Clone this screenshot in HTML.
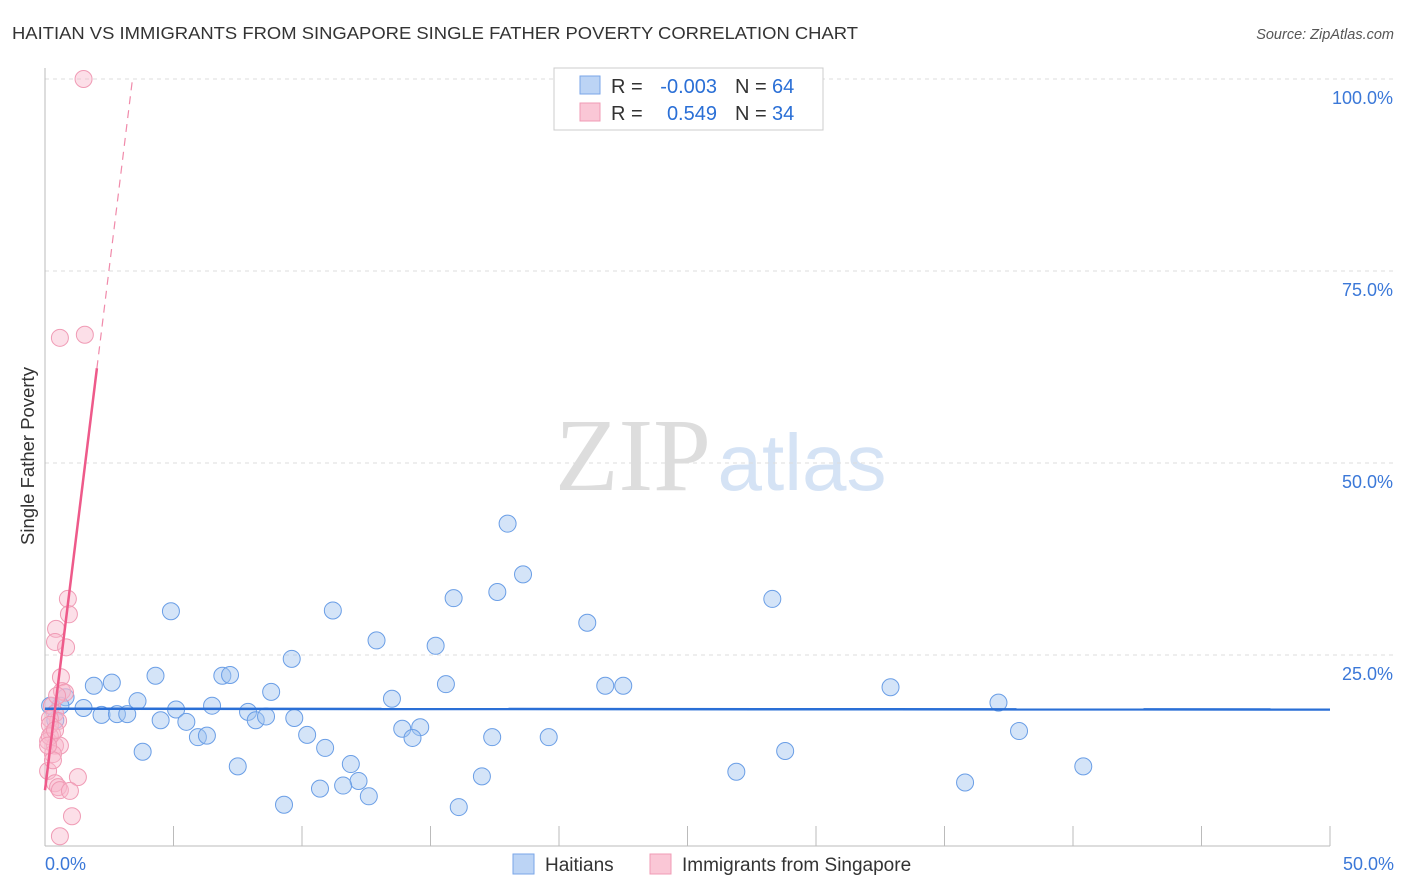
<!DOCTYPE html>
<html><head><meta charset="utf-8"><style>
body{margin:0;background:#fff;font-family:"Liberation Sans",sans-serif;}
svg{display:block}
</style></head><body>
<svg id="c" width="1406" height="892">
<text x="12" y="39" font-size="17.5" fill="#333" textLength="846" lengthAdjust="spacingAndGlyphs">HAITIAN VS IMMIGRANTS FROM SINGAPORE SINGLE FATHER POVERTY CORRELATION CHART</text>
<text x="1394" y="39" font-size="14.5" fill="#555" font-style="italic" text-anchor="end">Source: ZipAtlas.com</text>
<text x="34" y="456" font-size="18.5" fill="#333" text-anchor="middle" transform="rotate(-90 34 456)">Single Father Poverty</text>
<g><text x="633" y="490" font-size="104" fill="#ddd" font-family="Liberation Serif,serif" text-anchor="middle">ZIP</text><text x="802" y="490" font-size="80" fill="#d5e3f5" text-anchor="middle">atlas</text></g>
<g id="grid"></g><g id="marks"></g>
<g>
<rect x="554" y="68" width="269" height="62" fill="#fff" stroke="#ccc"/>
<rect x="580" y="76" width="20" height="18" fill="#bcd4f5" stroke="#7aa6e8"/>
<rect x="580" y="103" width="20" height="18" fill="#fac7d6" stroke="#f09bb5"/>
<g font-size="20" fill="#333">
<text x="611" y="93">R =</text><text x="717" y="93" text-anchor="end" fill="#2a6fd6">-0.003</text><text x="735" y="93">N =</text><text x="772" y="93" fill="#2a6fd6">64</text>
<text x="611" y="120">R =</text><text x="717" y="120" text-anchor="end" fill="#2a6fd6">0.549</text><text x="735" y="120">N =</text><text x="772" y="120" fill="#2a6fd6">34</text>
</g>
</g>
<g>
<rect x="513" y="854" width="21" height="20" fill="#bcd4f5" stroke="#7aa6e8"/>
<text x="545" y="871" font-size="19" fill="#333">Haitians</text>
<rect x="650" y="854" width="21" height="20" fill="#fac7d6" stroke="#f09bb5"/>
<text x="682" y="871" font-size="19" fill="#333">Immigrants from Singapore</text>
</g>
</svg>
<script>
const yTicks=[25,50,75,100];
const yTickLabels=["25.0%","50.0%","75.0%","100.0%"];
const xTickLabels=["0.0%","50.0%"];
const blueX=[18.0,18.6,17.6,15.9,21.1,28.3,4.9,11.2,12.9,15.2,9.6,4.3,6.9,7.2,2.6,1.9,15.6,21.8,22.5,32.9,8.8,0.8,3.6,13.5,6.5,37.1,0.6,1.5,5.1,7.9,2.2,2.8,3.2,4.5,5.5,8.2,8.6,9.7,13.9,14.6,37.9,5.95,6.3,10.2,14.3,17.4,19.6,10.9,3.8,28.8,11.9,7.5,40.4,26.9,17.0,12.2,11.6,10.7,35.8,12.6,9.3,16.1,0.4,0.2];
const blueY=[42.1,35.5,33.2,32.4,29.2,32.3,30.7,30.8,26.9,26.2,24.5,22.3,22.3,22.4,21.4,21.0,21.2,21.0,21.0,20.8,20.2,19.5,19.0,19.3,18.4,18.8,18.4,18.1,17.9,17.6,17.2,17.3,17.3,16.5,16.3,16.5,17.0,16.8,15.4,15.6,15.1,14.3,14.5,14.6,14.2,14.3,14.3,12.9,12.4,12.5,10.8,10.5,10.5,9.8,9.2,8.6,8.0,7.6,8.4,6.6,5.5,5.2,16.5,18.4];
const pinkX=[1.5,1.55,0.58,0.89,0.93,0.43,0.39,0.82,0.62,0.66,0.78,0.27,0.39,0.51,0.19,0.27,0.12,0.39,0.58,0.31,0.12,1.28,0.39,0.51,0.58,0.97,1.05,0.58,0.19,0.31,0.47,0.19,0.12,0.39];
const pinkY=[100,66.7,66.3,32.3,30.3,28.4,26.7,26.0,22.1,20.3,20.1,18.4,17.4,16.4,16.7,14.7,13.8,13.2,13.2,12.1,9.9,9.1,8.3,7.8,7.4,7.3,4.0,1.4,15.9,11.3,19.7,14.4,13.2,15.2];
const X=v=>45+v/50*1285, Y=v=>847-v/100*768;
const NS="http://www.w3.org/2000/svg";
const g=document.getElementById('grid'), m=document.getElementById('marks');
function el(t,a,p){const e=document.createElementNS(NS,t);for(const k in a)e.setAttribute(k,a[k]);p.appendChild(e);return e;}
yTicks.forEach((t,i)=>{
 const l=el('line',{x1:45,x2:1394,y1:Y(t),y2:Y(t),stroke:'#ddd','stroke-dasharray':'4 4'},g);
 
 
 const tx=el('text',{x:1393,y:Y(t)+25,'font-size':18,fill:'#3b78d8','text-anchor':'end'},g);
 tx.textContent=yTickLabels[i];
 
 
});
const ax=el('line',{x1:45,x2:1330,y1:846,y2:846,stroke:'#bbb'},g);


const ay=el('line',{x1:45,x2:45,y1:68,y2:846,stroke:'#bbb'},g);


for(let i=1;i<=10;i++){const t=el('line',{x1:X(i*5),x2:X(i*5),y1:826,y2:846,stroke:'#bbb'},g);
 
 }
[[0,'start',45],[50,'end',1394]].forEach((d,i)=>{const t=el('text',{x:d[2],y:870,'font-size':18,fill:'#3b78d8','text-anchor':d[1]},g);t.textContent=xTickLabels[i];
 
 });
blueX.forEach((v,i)=>{const c=el('circle',{cx:X(v),cy:Y(blueY[i]),r:8.5,fill:'rgba(160,195,240,0.45)',stroke:'#6a9ee6','stroke-width':1},m);
 
 });
pinkX.forEach((v,i)=>{const c=el('circle',{cx:X(v),cy:Y(pinkY[i]),r:8.5,fill:'rgba(248,185,205,0.45)',stroke:'#f09bb5','stroke-width':1},m);
 
 });
const bl=el('line',{x1:X(0),x2:X(50),y1:Y(18.0),y2:Y(17.9),stroke:'#2a6fd6','stroke-width':2.5},m);


const a=7.4,b=27.2;
const pl=el('line',{x1:X(0),x2:X(2.02),y1:Y(a),y2:Y(a+b*2.02),stroke:'#ee5a8a','stroke-width':2.5},m);


const pd=el('line',{x1:X(2.02),x2:X((100-a)/b),y1:Y(a+b*2.02),y2:Y(100),stroke:'#f08aaa','stroke-width':1.2,'stroke-dasharray':'8 6'},m);


</script>
</body></html>
